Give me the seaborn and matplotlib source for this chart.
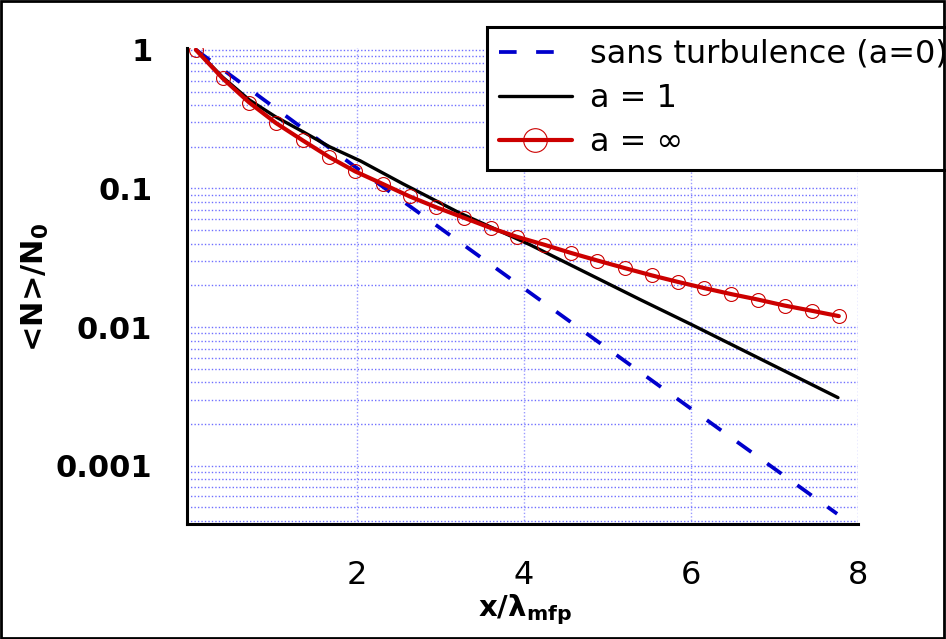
import matplotlib
matplotlib.use("Agg")
import matplotlib.pyplot as plt
import seaborn as sns
import pandas as pd
from matplotlib.patches import Rectangle
from matplotlib.ticker import LogLocator, NullFormatter, FixedLocator

# ---- data ----
x_a0 = [0.07, 2.0, 4.0, 6.0, 7.75]
y_a0 = [1.0, 0.14, 0.019, 0.00258, 0.00045]

x_a1 = [0.07, 0.39, 0.71, 1.02, 1.35, 1.67, 2.04, 2.55, 3.23, 4.07, 5.39, 6.01, 7.76]
y_a1 = [1.0, 0.635, 0.435, 0.33, 0.257, 0.2, 0.158, 0.108, 0.0665, 0.0393, 0.0158, 0.0104, 0.0031]

x_ainf = [0.07, 0.39, 0.71, 1.03, 1.35, 1.67, 1.98, 2.31, 2.63, 2.95, 3.28, 3.60, 3.92,
          4.24, 4.56, 4.88, 5.21, 5.53, 5.84, 6.16, 6.48, 6.80, 7.12, 7.45, 7.77]
y_ainf = [1.0, 0.623, 0.416, 0.296, 0.222, 0.168, 0.1325, 0.1076, 0.0876, 0.073, 0.0615,
          0.0519, 0.0447, 0.0393, 0.0343, 0.0302, 0.0266, 0.0236, 0.0212, 0.0191, 0.0173,
          0.0158, 0.0143, 0.0131, 0.0120]

labels = ["sans turbulence (a=0)", "a = 1", "a = \u221e"]
x_ticks = [2, 4, 6, 8]
y_ticks = [1, 0.1, 0.01, 0.001]
y_ticklabels = ["1", "0.1", "0.01", "0.001"]

sns.set_style("white")
plt.rcParams["font.family"] = ["DejaVu Sans"]
for k in ["text.color", "axes.labelcolor", "xtick.color", "ytick.color"]:
    plt.rcParams[k] = "black"

W, H = 946, 639
fig = plt.figure(figsize=(W / 100, H / 100), dpi=100)
L, R, T, B = 187, 858, 48, 524
ax = fig.add_axes([L / W, 1 - B / H, (R - L) / W, (B - T) / H])

blue = "#0000cc"
red = "#cc0000"

df0 = pd.DataFrame({"x": x_a0, "y": y_a0})
df1 = pd.DataFrame({"x": x_a1, "y": y_a1})
df2 = pd.DataFrame({"x": x_ainf, "y": y_ainf})

sns.lineplot(data=df0, x="x", y="y", ax=ax, color=blue, linewidth=2.7,
             linestyle=(0, (4.7, 5.2)), label=labels[0], legend=False)
sns.lineplot(data=df1, x="x", y="y", ax=ax, color="black", linewidth=2.4,
             label=labels[1], legend=False)
sns.lineplot(data=df2, x="x", y="y", ax=ax, color=red, linewidth=3.0, marker="o",
             markersize=10, markerfacecolor="none", markeredgecolor=red,
             markeredgewidth=0.8, label=labels[2], legend=False)
ax.set_xlabel("")
ax.set_ylabel("")

ax.set_yscale("log")
ax.set_xlim(-0.036, 8.0)
ax.set_ylim(0.00038, 1.03)

ax.yaxis.set_major_locator(FixedLocator(y_ticks))
ax.set_yticklabels(y_ticklabels)
ax.yaxis.set_minor_locator(LogLocator(base=10, subs=range(2, 10)))
ax.yaxis.set_minor_formatter(NullFormatter())
ax.set_xticks(x_ticks)
ax.set_xticklabels([str(v) for v in x_ticks])

ax.grid(True, which="both", axis="y", color="#7070ff", lw=1.0, ls=(0, (1, 1.5)))
ax.grid(True, which="major", axis="x", color="#9a9aff", lw=1.0, ls=(0, (1, 1.5)))
ax.set_axisbelow(True)

for s in ["top", "right"]:
    ax.spines[s].set_visible(False)
for s in ["left", "bottom"]:
    ax.spines[s].set_linewidth(2.2)
    ax.spines[s].set_color("black")

ax.tick_params(axis="y", which="major", direction="out", length=10, width=1.6,
               labelsize=22, pad=15)
ax.tick_params(axis="y", which="minor", direction="out", length=5.5, width=1.6)
ax.tick_params(axis="x", which="major", direction="out", length=10, width=1.6,
               labelsize=23, pad=16)
for t in ax.get_yticklabels():
    t.set_fontweight("bold")

fig.text(525 / W, 1 - 610 / H, "x/\u03bb$_{\\mathbf{mfp}}$", fontsize=21,
         fontweight="bold", ha="center", va="center")
fig.text(35 / W, 1 - 287 / H, "<N>/N$_\\mathbf{0}$", fontsize=22,
         fontweight="bold", ha="center", va="center", rotation=90)

handles, labs = ax.get_legend_handles_labels()
leg = fig.legend(handles, labs, loc="upper left",
                 bbox_to_anchor=(487 / W, 1 - 27 / H), fontsize=23,
                 frameon=True, fancybox=False, framealpha=1, edgecolor="black",
                 handlelength=2.29, handletextpad=0.56, labelspacing=0.41,
                 borderpad=0.37, borderaxespad=0, numpoints=1, markerscale=1.7)
leg.get_frame().set_linewidth(2.2)

fig.patches.append(Rectangle((0.001, 0.002), 0.997, 0.996, transform=fig.transFigure,
                             fill=False, edgecolor="black", lw=2.0, zorder=10))

fig.savefig("out.png", dpi=100)
